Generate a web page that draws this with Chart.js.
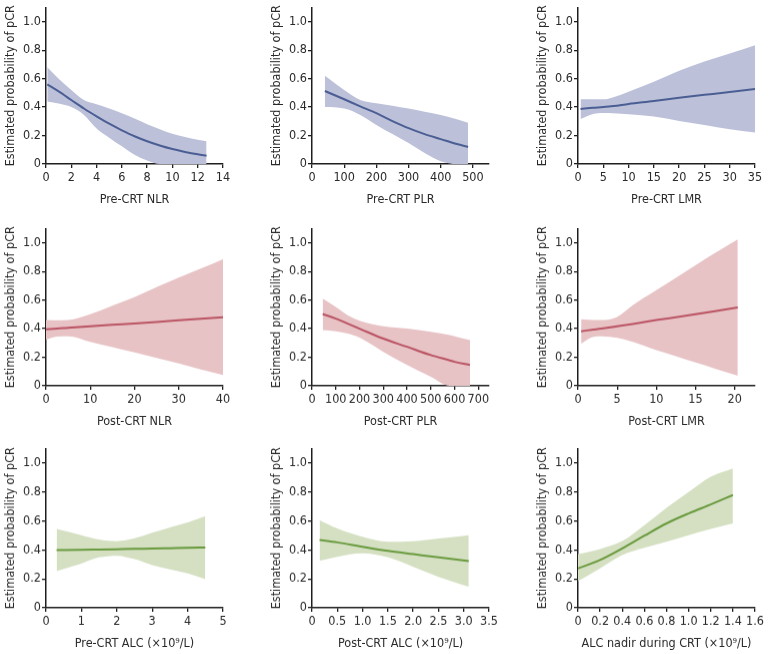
<!DOCTYPE html>
<html>
<head>
<meta charset="utf-8">
<script src="https://cdn.jsdelivr.net/npm/chart.js@4/dist/chart.umd.min.js"></script>
<style>
  body { margin: 0; background: #fff; }
  #wrap { position: relative; width: 769px; height: 654px; overflow: hidden; }
  #wrap canvas { position: absolute; }
</style>
</head>
<body>
<div id="wrap"></div>
<script>
// y axis shared by all panels
const yTickLabels = ['0', '0.2', '0.4', '0.6', '0.8', '1.0'];

// Pre-CRT NLR
const preNlrX = [0.1, 1, 2, 3, 4, 5, 6, 7, 8, 9, 10, 11, 12, 12.7];
const preNlrFit = [0.56, 0.51, 0.45, 0.39, 0.335, 0.283, 0.237, 0.195, 0.16, 0.13, 0.105, 0.085, 0.068, 0.058];
const preNlrUp = [0.68, 0.6, 0.52, 0.45, 0.42, 0.39, 0.357, 0.32, 0.28, 0.245, 0.212, 0.19, 0.17, 0.16];
const preNlrLo = [0.44, 0.425, 0.4, 0.345, 0.25, 0.185, 0.124, 0.065, 0.025, 0, 0, 0, 0, 0];
const preNlrTicks = ['0', '2', '4', '6', '8', '10', '12', '14'];

// Pre-CRT PLR
const prePlrX = [40, 100, 150, 200, 250, 300, 350, 400, 450, 485];
const prePlrFit = [0.513, 0.455, 0.405, 0.357, 0.302, 0.252, 0.21, 0.175, 0.14, 0.119];
const prePlrUp = [0.62, 0.52, 0.45, 0.427, 0.41, 0.39, 0.368, 0.345, 0.315, 0.29];
const prePlrLo = [0.4, 0.39, 0.345, 0.275, 0.21, 0.147, 0.077, 0.02, 0, 0];
const prePlrTicks = ['0', '100', '200', '300', '400', '500'];

// Pre-CRT LMR
const preLmrX = [0.5, 3, 5, 7, 10, 15, 20, 25, 30, 35];
const preLmrFit = [0.387, 0.395, 0.4, 0.407, 0.422, 0.443, 0.466, 0.486, 0.506, 0.527];
const preLmrUp = [0.455, 0.455, 0.455, 0.47, 0.508, 0.578, 0.655, 0.72, 0.776, 0.834];
const preLmrLo = [0.317, 0.352, 0.358, 0.357, 0.35, 0.333, 0.303, 0.275, 0.245, 0.221];
const preLmrTicks = ['0', '5', '10', '15', '20', '25', '30', '35'];

// Post-CRT NLR
const postNlrX = [0, 2.5, 5, 10, 15, 20, 25, 30, 35, 40];
const postNlrFit = [0.396, 0.4, 0.406, 0.417, 0.427, 0.436, 0.447, 0.458, 0.469, 0.48];
const postNlrUp = [0.46, 0.458, 0.46, 0.5, 0.56, 0.62, 0.69, 0.757, 0.82, 0.886];
const postNlrLo = [0.324, 0.345, 0.347, 0.308, 0.27, 0.233, 0.195, 0.156, 0.115, 0.075];
const postNlrTicks = ['0', '10', '20', '30', '40'];

// Post-CRT PLR
const postPlrX = [45, 100, 150, 200, 300, 400, 500, 580, 600, 665];
const postPlrFit = [0.503, 0.47, 0.435, 0.4, 0.33, 0.273, 0.215, 0.178, 0.168, 0.145];
const postPlrUp = [0.61, 0.552, 0.494, 0.455, 0.417, 0.4, 0.378, 0.355, 0.347, 0.32];
const postPlrLo = [0.39, 0.382, 0.366, 0.338, 0.238, 0.145, 0.063, 0, 0, 0];
const postPlrTicks = ['0', '100', '200', '300', '400', '500', '600', '700'];

// Post-CRT LMR
const postLmrX = [0.4, 2, 3, 5, 7, 10, 12.5, 15, 17.5, 20.4];
const postLmrFit = [0.382, 0.393, 0.4, 0.417, 0.433, 0.46, 0.48, 0.5, 0.522, 0.548];
const postLmrUp = [0.466, 0.46, 0.46, 0.482, 0.564, 0.669, 0.756, 0.844, 0.93, 1.024];
const postLmrLo = [0.296, 0.343, 0.347, 0.335, 0.308, 0.25, 0.207, 0.163, 0.12, 0.07];
const postLmrTicks = ['0', '5', '10', '15', '20'];

// Pre-CRT ALC
const preAlcX = [0.3, 1, 1.5, 2, 2.5, 3, 3.5, 4, 4.5];
const preAlcFit = [0.399, 0.401, 0.403, 0.405, 0.407, 0.41, 0.412, 0.414, 0.417];
const preAlcUp = [0.544, 0.502, 0.472, 0.46, 0.48, 0.518, 0.555, 0.59, 0.634];
const preAlcLo = [0.253, 0.306, 0.348, 0.36, 0.336, 0.295, 0.265, 0.237, 0.198];
const preAlcTicks = ['0', '1', '2', '3', '4', '5'];

// Post-CRT ALC
const postAlcX = [0.15, 0.5, 1.0, 1.5, 2.0, 2.5, 3.1];
const postAlcFit = [0.468, 0.452, 0.422, 0.394, 0.371, 0.348, 0.323];
const postAlcUp = [0.606, 0.548, 0.491, 0.456, 0.46, 0.479, 0.502];
const postAlcLo = [0.325, 0.353, 0.376, 0.348, 0.283, 0.214, 0.145];
const postAlcTicks = ['0', '0.5', '1.0', '1.5', '2.0', '2.5', '3.0', '3.5'];

// ALC nadir during CRT
const nadirX = [0, 0.2, 0.4, 0.6, 0.8, 1.0, 1.2, 1.4];
const nadirFit = [0.272, 0.33, 0.41, 0.498, 0.583, 0.652, 0.714, 0.779];
const nadirUp = [0.369, 0.406, 0.461, 0.571, 0.691, 0.8, 0.906, 0.963];
const nadirLo = [0.184, 0.272, 0.364, 0.415, 0.456, 0.502, 0.544, 0.583];
const nadirTicks = ['0', '0.2', '0.4', '0.6', '0.8', '1.0', '1.2', '1.4', '1.6'];

const blue = { line: '#4b5e94', fill: '#bcc1d9' };
const red = { line: '#bb5463', fill: '#e7c3c6' };
const green = { line: '#6a9b3f', fill: '#d5e0c3' };

const panels = [
  { x: preNlrX, fit: preNlrFit, up: preNlrUp, lo: preNlrLo, ticks: preNlrTicks, max: 14, title: 'Pre-CRT NLR', col: blue },
  { x: prePlrX, fit: prePlrFit, up: prePlrUp, lo: prePlrLo, ticks: prePlrTicks, max: 550, title: 'Pre-CRT PLR', col: blue },
  { x: preLmrX, fit: preLmrFit, up: preLmrUp, lo: preLmrLo, ticks: preLmrTicks, max: 35, title: 'Pre-CRT LMR', col: blue },
  { x: postNlrX, fit: postNlrFit, up: postNlrUp, lo: postNlrLo, ticks: postNlrTicks, max: 40, title: 'Post-CRT NLR', col: red },
  { x: postPlrX, fit: postPlrFit, up: postPlrUp, lo: postPlrLo, ticks: postPlrTicks, max: 745, title: 'Post-CRT PLR', col: red },
  { x: postLmrX, fit: postLmrFit, up: postLmrUp, lo: postLmrLo, ticks: postLmrTicks, max: 22.6, title: 'Post-CRT LMR', col: red },
  { x: preAlcX, fit: preAlcFit, up: preAlcUp, lo: preAlcLo, ticks: preAlcTicks, max: 5, title: 'Pre-CRT ALC (\u00d710\u2079/L)', col: green },
  { x: postAlcX, fit: postAlcFit, up: postAlcUp, lo: postAlcLo, ticks: postAlcTicks, max: 3.5, title: 'Post-CRT ALC (\u00d710\u2079/L)', col: green },
  { x: nadirX, fit: nadirFit, up: nadirUp, lo: nadirLo, ticks: nadirTicks, max: 1.6, title: 'ALC nadir during CRT (\u00d710\u2079/L)', col: green }
];

// plot area placement (left edge of plot, top = 1.1, bottom = 0)
const colLeft = [46, 312, 578];
const rowTop = [6.7, 228.4, 448.2];
const rowBottom = [164, 385.7, 607.7];
const plotW = 177;
const yAxisW = 46;
const xAxisH = 48;
const padTop = 8;
const padRight = 14;

const tickFont = { family: "'Liberation Sans Narrow', 'Arial Narrow', 'DejaVu Sans Condensed', sans-serif", size: 12.5 };
const titleFont = { family: "'DejaVu Sans Condensed', 'Liberation Sans Narrow', sans-serif", size: 12.5 };
const axisColor = '#1e1e1e';
const textColor = '#2a2a2a';

const wrap = document.getElementById('wrap');

function pts(xs, ys) {
  return xs.map((x, i) => ({ x: x, y: ys[i] }));
}

panels.forEach((p, k) => {
  const r = Math.floor(k / 3), c = k % 3;
  const canvas = document.createElement('canvas');
  const w = yAxisW + plotW + padRight;
  const h = padTop + (rowBottom[r] - rowTop[r]) + xAxisH;
  canvas.width = w;
  canvas.height = h;
  canvas.style.left = (colLeft[c] - yAxisW) + 'px';
  canvas.style.top = (rowTop[r] - padTop) + 'px';
  canvas.style.width = w + 'px';
  canvas.style.height = h + 'px';
  wrap.appendChild(canvas);

  const band = { borderWidth: 0, pointRadius: 0, backgroundColor: p.col.fill, cubicInterpolationMode: 'monotone' };

  new Chart(canvas.getContext('2d'), {
    type: 'line',
    data: {
      datasets: [
        Object.assign({ data: pts(p.x, p.up), fill: '+1' }, band),
        Object.assign({ data: pts(p.x, p.lo), fill: false }, band),
        {
          data: pts(p.x, p.fit),
          borderColor: p.col.line,
          borderWidth: 2,
          pointRadius: 0,
          fill: false,
          cubicInterpolationMode: 'monotone'
        }
      ]
    },
    options: {
      responsive: false,
      animation: false,
      layout: { padding: { top: padTop, right: padRight, left: 0, bottom: 0 } },
      plugins: {
        legend: { display: false },
        tooltip: { enabled: false },
        filler: { drawTime: 'beforeDatasetsDraw' }
      },
      scales: {
        x: {
          type: 'linear',
          min: 0,
          max: p.max,
          afterBuildTicks: s => { s.ticks = p.ticks.map(t => ({ value: Number(t) })); },
          afterFit: s => { s.height = xAxisH; },
          grid: { drawOnChartArea: false, drawTicks: true, tickLength: 4, color: axisColor, lineWidth: 1.3 },
          border: { color: axisColor, width: 1.5 },
          ticks: { font: tickFont, color: textColor, padding: 2, maxRotation: 0, autoSkip: false,
                   callback: (v, i) => p.ticks[i] },
          title: { display: true, text: p.title, font: titleFont, color: textColor, padding: { top: 4, bottom: 5 } }
        },
        y: {
          min: 0,
          max: 1.1,
          afterBuildTicks: s => { s.ticks = yTickLabels.map(t => ({ value: Number(t) })); },
          afterFit: s => { s.width = yAxisW; },
          grid: { drawOnChartArea: false, drawTicks: true, tickLength: 4, color: axisColor, lineWidth: 1.3 },
          border: { color: axisColor, width: 1.5 },
          ticks: { font: tickFont, color: textColor, padding: 1, autoSkip: false,
                   callback: (v, i) => yTickLabels[i] },
          title: { display: true, text: 'Estimated probability of pCR', font: titleFont, color: textColor, padding: { top: 3, bottom: 2 } }
        }
      }
    }
  });
});
</script>
</body>
</html>
